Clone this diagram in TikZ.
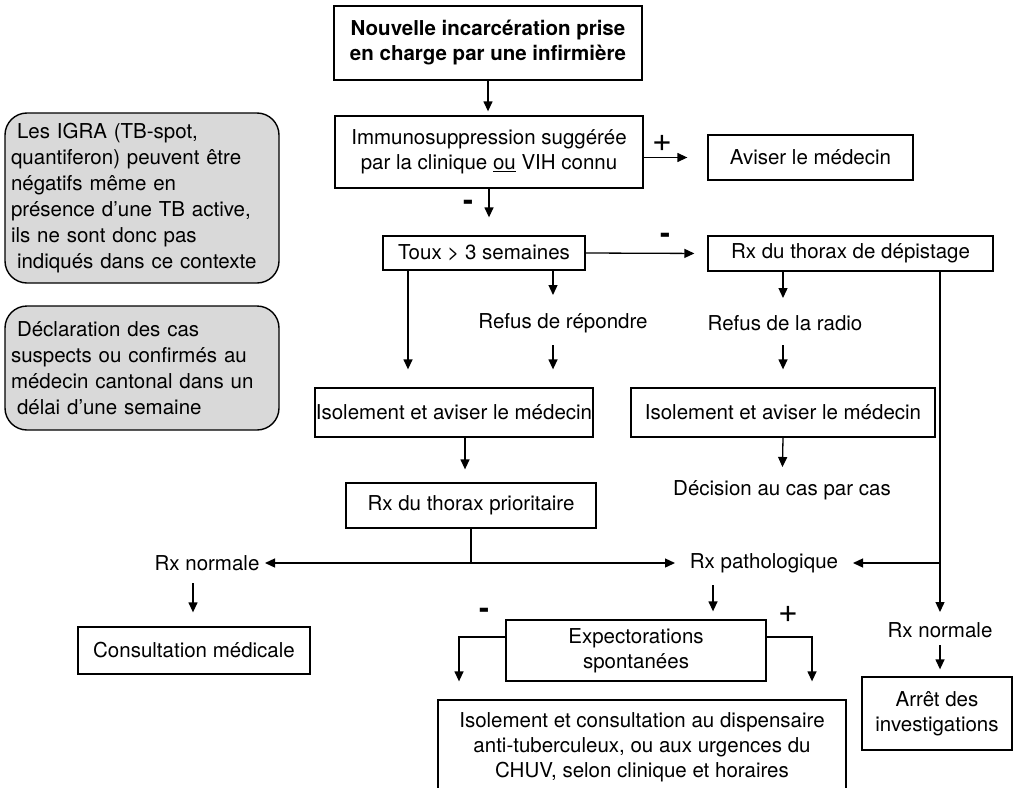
\documentclass[tikz,border=0pt]{standalone}
\usepackage{fontspec}
\setmainfont{TeX Gyre Heros}
\usetikzlibrary{arrows.meta}
\begin{document}
\begin{tikzpicture}[x=1pt,y=-1pt,
  font=\fontsize{20.5}{25}\selectfont,
  line width=1.3pt,
  box/.style={draw, inner sep=0pt, align=center},
  txt/.style={inner sep=0pt, align=center},
  gbox/.style={draw, fill=black!15, rounded corners=22pt, line width=1.4pt,
    inner sep=0pt, minimum width=274pt, text width=262pt, align=left,
    font=\fontsize{20.5}{26}\selectfont},
  arr/.style={-{Triangle[length=10pt,width=9pt]}},
  plus/.style={inner sep=0pt, font=\fontsize{34}{36}\selectfont},
  minus/.style={inner sep=0pt, font=\fontsize{30}{32}\selectfont\bfseries}]
\useasboundingbox (0,0) rectangle (1014,787);

% boxes
\node[box, line width=2.6pt, minimum width=308pt, minimum height=74pt] (n1) at (488,43)
  {\bfseries Nouvelle incarcération prise\\\bfseries en charge par une infirmière};
\node[box, minimum width=308pt, minimum height=72pt] (n2) at (489,152)
  {Immunosuppression suggérée\\par la clinique \underline{ou} VIH connu};
\node[box, minimum width=205pt, minimum height=45pt] (n3) at (810.5,157.5) {Aviser le médecin};
\node[box, minimum width=202pt, minimum height=34pt] (n4) at (484,253) {Toux > 3 semaines};
\node[box, minimum width=285pt, minimum height=35pt] (n5) at (850.5,253.5) {Rx du thorax de dépistage};
\node[txt] (n6) at (563,323) {Refus de répondre};
\node[txt] (n7) at (785,323) {Refus de la radio};
\node[box, minimum width=278pt, minimum height=49pt] (n8) at (454,412.5) {Isolement et aviser le médecin};
\node[box, minimum width=304pt, minimum height=49pt] (n9) at (783,412.5) {Isolement et aviser le médecin};
\node[box, minimum width=250pt, minimum height=45pt] (n10) at (471,505.5) {Rx du thorax prioritaire};
\node[txt] (n11) at (782,490) {Décision au cas par cas};
\node[txt] (n12) at (207,563) {Rx normale};
\node[txt] (n13) at (764,563) {Rx pathologique};
\node[box, minimum width=232pt, minimum height=47pt] (n14) at (194,650.5) {Consultation médicale};
\node[box, minimum width=260pt, minimum height=61pt] (n15) at (636,650.5) {Expectorations\\spontanées};
\node[txt] (n16) at (940,630) {Rx normale};
\node[box, minimum width=150pt, minimum height=73pt] (n17) at (937,713.5) {Arrêt des\\investigations};
\node[box, minimum width=408pt, minimum height=95pt] (n18) at (642,747.5)
  {Isolement et consultation au dispensaire\\anti-tuberculeux, ou aux urgences du\\CHUV, selon clinique et horaires};

% grey notes
\node[gbox, minimum height=170pt] (g1) at (142,198)
  {\hspace*{6pt}Les IGRA (TB-spot,\\quantiferon) peuvent être\\négatifs même en\\présence d’une TB active,\\ils ne sont donc pas\\\hspace*{6pt}indiqués dans ce contexte};
\node[gbox, minimum height=124pt] (g2) at (142,368)
  {\hspace*{6pt}Déclaration des cas\\suspects ou confirmés au\\médecin cantonal dans un\\\hspace*{6pt}délai d’une semaine};

% signs
\node[plus] (s1) at (662,143) {+};
\node[minus] (s2) at (468,205) {-};
\node[minus] (s3) at (665,238) {-};
\node[minus] (s4) at (484,613) {-};
\node[plus] (s5) at (788,614) {+};

% connectors
\draw[arr, shorten >=4pt] (n1.south) -- (n1.south |- n2.north);
\draw[arr, shorten >=20pt] (n2.east |- n3.west) -- (n3.west);
\draw[arr, shorten >=18pt] (n2.south) -- (n2.south |- n4.north);
\draw[arr, shorten >=13pt] (n4.east) -- (n5.west);
\draw[arr, shorten >=18pt] (408,0 |- n4.south) -- (408,0 |- n8.north);
\draw[arr, shorten >=28pt] (553,0 |- n4.south) -- (553,0 |- n6.center);
\draw[arr, shorten <=22pt, shorten >=18pt] (553,0 |- n6.center) -- (553,0 |- n8.north);
\draw[arr, shorten >=25pt] (783,0 |- n5.south) -- (783,0 |- n7.center);
\draw[arr, shorten <=22pt, shorten >=18pt] (783,0 |- n7.center) -- (n9.north);
\draw[arr, shorten >=13pt] (465,0 |- n8.south) -- (465,0 |- n10.north);
\draw[arr, shorten >=23pt] (n9.south) -- (n11.center);
\draw[arr, shorten >=58pt] (n10.south) |- (n12.center);
\draw[arr, shorten >=89pt] (n10.south) |- (n13.center);
\draw[arr, shorten >=18pt] (940,0 |- n5.south) -- (940,0 |- n16.center);
\draw[arr, shorten >=89pt] (940,0 |- n13.center) -- (n13.center);
\draw[arr, shorten <=22pt, shorten >=8pt] (713,0 |- n13.center) -- (713,0 |- n15.north);
\draw[arr, shorten <=20pt, shorten >=14pt] (193,0 |- n12.center) -- (193,0 |- n14.north);
\draw[arr, shorten <=15pt, shorten >=7pt] (940,0 |- n16.center) -- (940,0 |- n17.north);
\draw[arr, shorten >=18pt] (n15.west |- 0,637) -| (459,0 |- n18.north);
\draw[arr, shorten >=18pt] (n15.east |- 0,637) -| (812,0 |- n18.north);
\end{tikzpicture}
\end{document}
